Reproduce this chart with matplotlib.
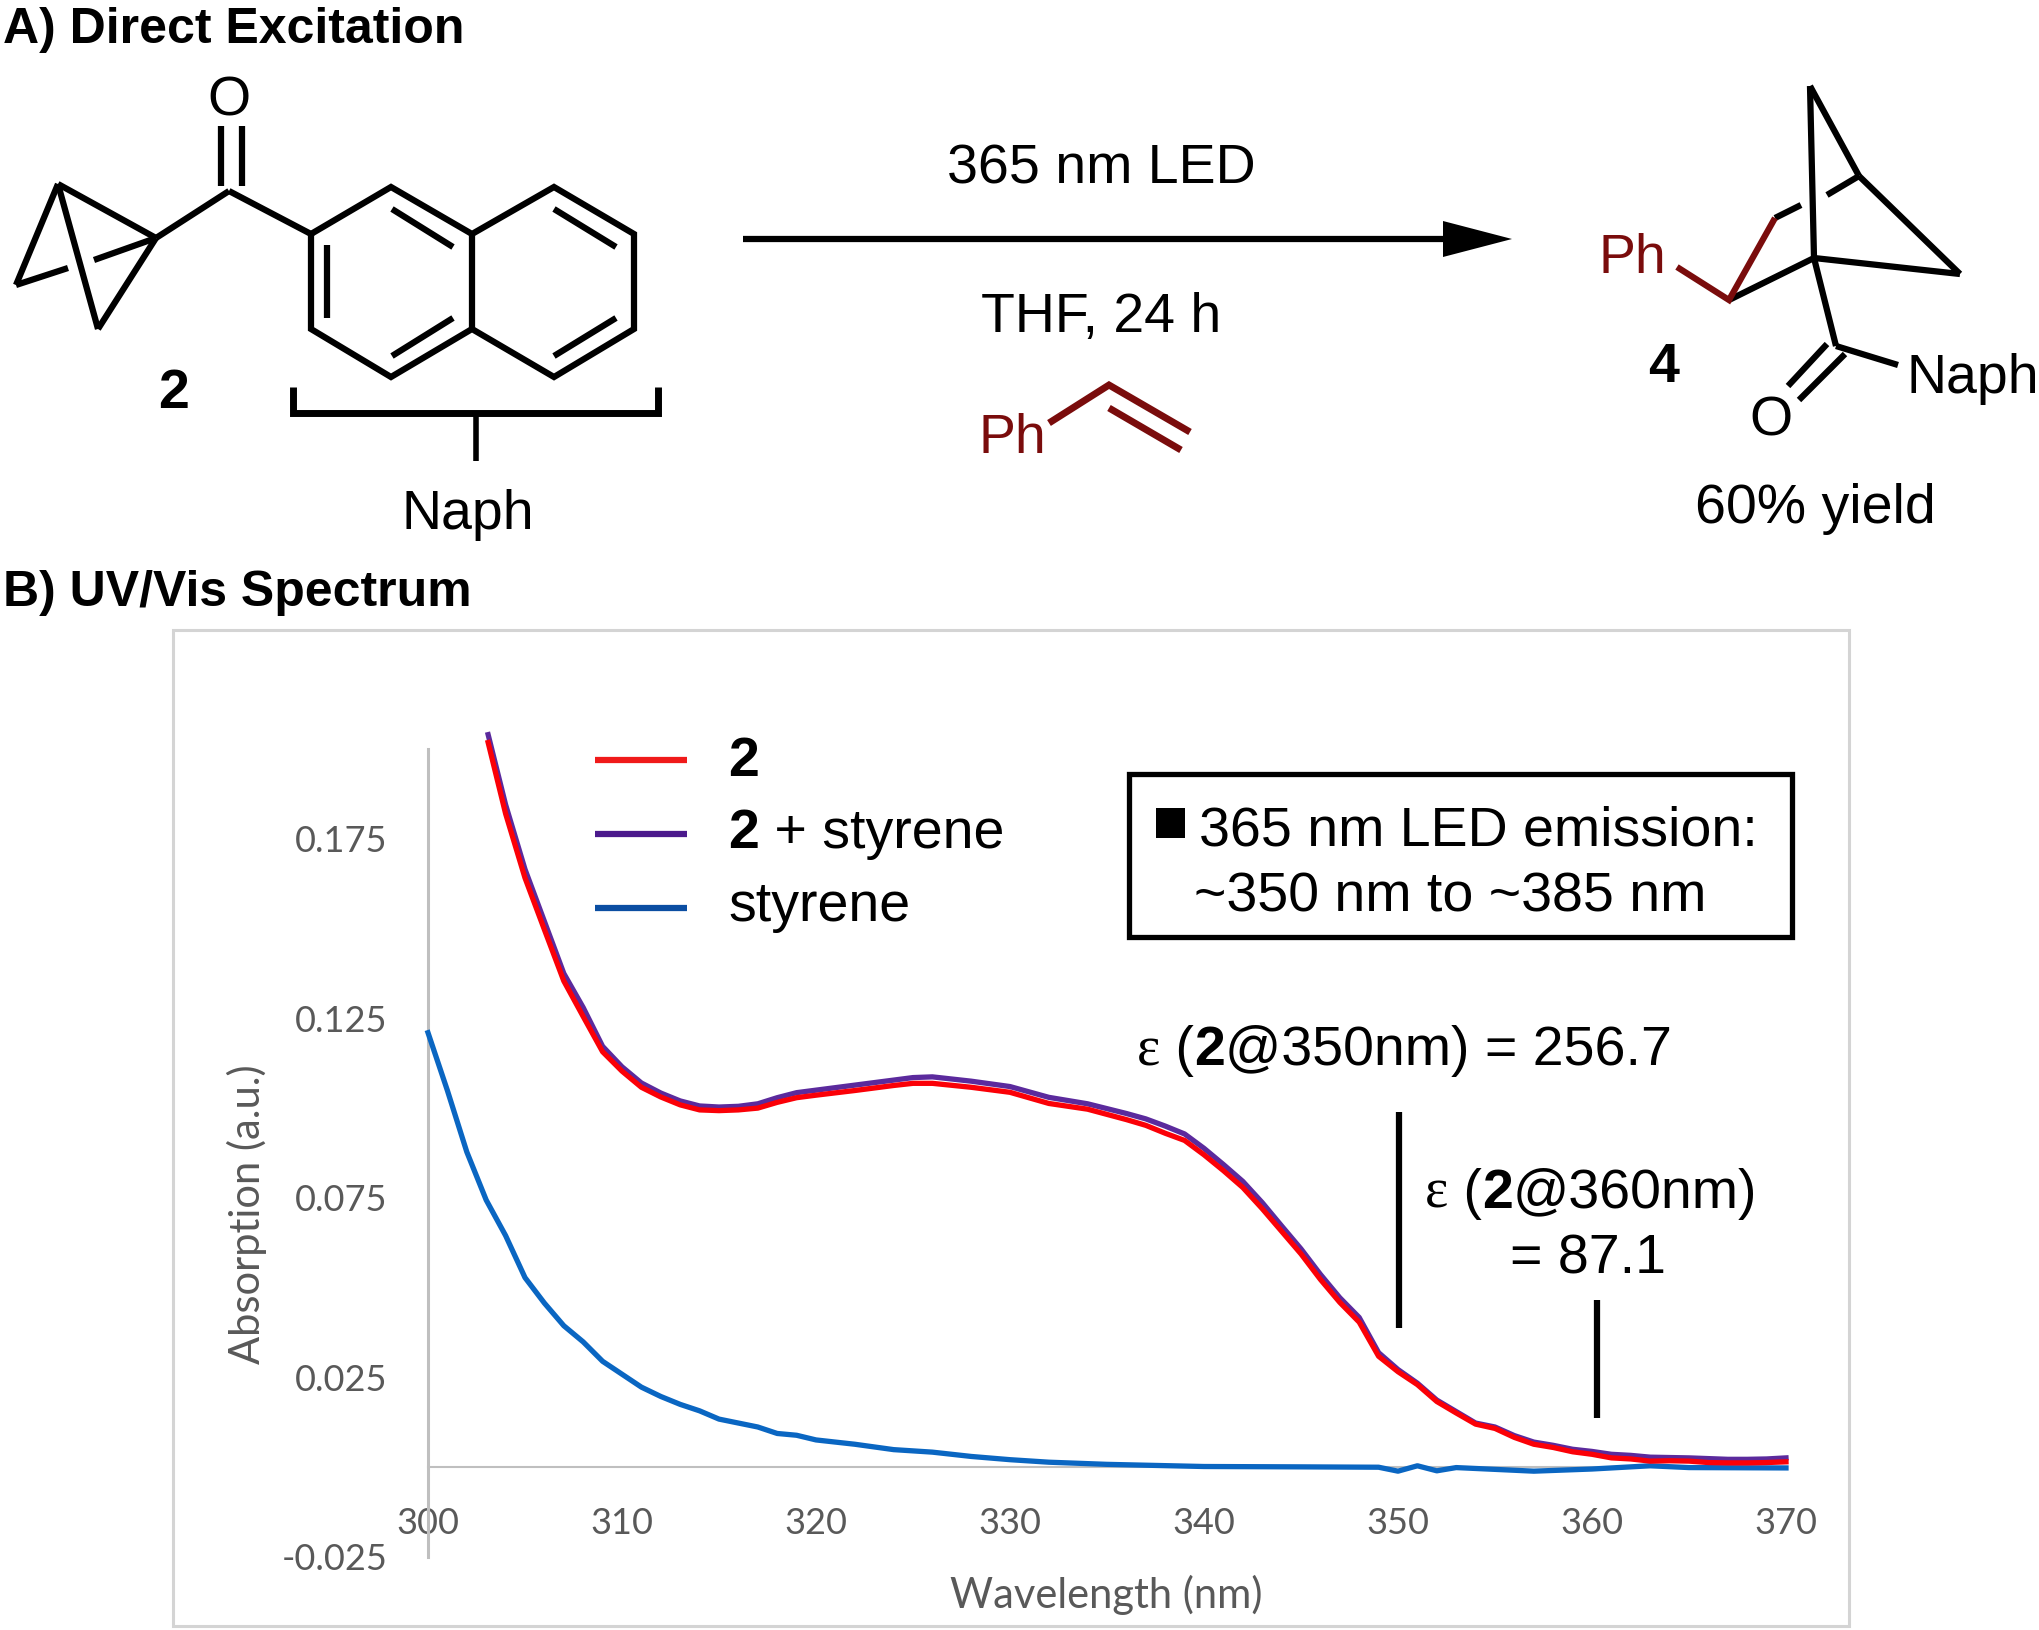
import matplotlib
matplotlib.use('Agg')
import matplotlib.pyplot as plt
from matplotlib.patches import Polygon, Rectangle

W, H = 2040, 1630
plt.rcParams['font.family'] = 'Liberation Sans'

# ***************** spectrum data
wl = [303.1, 304, 305, 306, 307, 308, 309, 310, 311, 312, 313, 314, 315, 316, 317, 318, 319, 320,
      322, 324, 325, 326, 328, 330, 332, 334, 336, 337, 338, 339, 340, 341, 342, 343, 344, 345,
      346, 347, 348, 349, 350, 351, 352, 353, 354, 355, 356, 357, 358, 359, 360, 361, 362, 363,
      364, 365, 366, 367, 368, 369, 370]
abs_2 = [.2018, .1820, .1641, .1497, .1354, .1255, .1157, .1103, .1058, .1031, .1009, .0995, .0993,
         .0995, .1000, .1016, .1029, .1036, .1049, .1063, .1069, .1069, .1058, .1044, .1013, .0997,
         .0968, .0952, .0930, .0910, .0870, .0826, .0779, .0720, .0657, .0594, .0523, .0459, .0404,
         .0309, .0266, .0230, .0183, .0151, .0120, .0108, .0083, .0064, .0055, .0043, .0036, .0026,
         .0023, .0017, .0018, .0017, .0013, .0012, .0012, .0013, .0015]
abs_2_styrene = [.2040, .1845, .1665, .1520, .1375, .1280, .1172, .1115, .1070, .1042, .1020, .1006,
                 .1003, .1005, .1012, .1029, .1043, .1050, .1064, .1078, .1085, .1087, .1075, .1060,
                 .1030, .1012, .0985, .0970, .0950, .0928, .0888, .0843, .0796, .0737, .0672, .0608,
                 .0537, .0472, .0417, .0319, .0272, .0234, .0187, .0155, .0123, .0112, .0088, .0070,
                 .0061, .0050, .0044, .0036, .0033, .0028, .0027, .0026, .0024, .0022, .0022, .0023,
                 .0026]
wl_sty = [300, 301, 302, 303, 304, 305, 306, 307, 308, 309, 310, 311, 312, 313, 314, 315, 316, 317,
          318, 319, 320, 322, 324, 326, 328, 330, 332, 335, 340, 345, 349, 350, 351, 352, 353, 357,
          360, 363, 365, 370]
abs_sty = [.1210, .1049, .0878, .0744, .0645, .0528, .0457, .0394, .0349, .0295, .0259, .0223, .0197,
           .0175, .0157, .0134, .0123, .0112, .0094, .0089, .0076, .0064, .0049, .0042, .0030, .0021,
           .0014, .0008, .0002, .0001, .0000, -.0011, .0004, -.0010, -.0001, -.0011, -.0005, .0004,
           -.0001, -.0002]
x_ticks = [300, 310, 320, 330, 340, 350, 360, 370]
y_ticks = [-0.025, 0.025, 0.075, 0.125, 0.175]
y_ticklabels = ['-0.025', '0.025', '0.075', '0.125', '0.175']

# ***************** structures, in pixels of the figure (x, y)
cp_bonds = [[(58, 184), (156, 238)], [(58, 184), (98, 329)], [(156, 238), (98, 329)],
            [(58, 184), (16, 285)], [(16, 285), (68, 268)], [(94, 260), (156, 238)],
            [(156, 238), (229, 191)], [(229, 191), (311, 234)],
            [(221, 126), (221, 186)], [(242, 126), (242, 186)]]
naph_ring = [(311, 234), (391, 187), (472, 234), (554, 187), (634, 234), (634, 329), (554, 377),
             (472, 329), (391, 377), (311, 329), (311, 234)]
naph_inner = [[(327, 245), (327, 318)], [(392, 209), (453, 247)], [(392, 356), (453, 318)],
              [(472, 234), (472, 329)], [(554, 209), (616, 247)], [(554, 356), (616, 318)]]
bracket = [(293, 387), (293, 413), (658, 413), (658, 387)]
bracket_stem = [(476, 413), (476, 461)]
styrene_bonds = [[(1049, 423), (1109, 385), (1190, 432)], [(1109, 408), (1181, 450)]]
prod_black = [[(1810, 86), (1814, 258)], [(1810, 86), (1859, 176)], [(1859, 176), (1960, 274)],
              [(1814, 258), (1960, 274)], [(1729, 300), (1814, 258)], [(1775, 218), (1801, 205)],
              [(1827, 195), (1859, 176)], [(1814, 258), (1836, 346)], [(1788, 386), (1827, 344)],
              [(1799, 400), (1845, 354)], [(1836, 346), (1898, 365)]]
prod_red = [[(1677, 267), (1729, 300), (1775, 218)]]

dark_red = '#7a0c0c'
grey_txt = '#595959'
axis_grey = '#bfbfbf'

fig = plt.figure(figsize=(W / 100, H / 100), dpi=100, facecolor='white')

# pixel overlay for everything that is not the spectrum
bg = fig.add_axes([0, 0, 1, 1])
bg.set_xlim(0, W)
bg.set_ylim(H, 0)
bg.axis('off')

def seg(pts, color='black', lw=4.0):
    bg.plot([p[0] for p in pts], [p[1] for p in pts], color=color, lw=lw, solid_capstyle='butt',
            solid_joinstyle='miter')

def txt(x, y, s, size=40, color='black', weight='normal', ha='center'):
    return bg.text(x, y, s, fontsize=size, color=color, fontweight=weight, ha=ha, va='center_baseline')

def runs(x, y, parts, size=40):
    # mixed weights on one line, each piece starts where the last one ended
    rend = fig.canvas.get_renderer()
    for s, weight, fam in parts:
        t = bg.text(x, y, s, fontsize=size, fontweight=weight, family=fam, ha='left',
                    va='baseline')
        trail = bg.text(0, 0, 'x' + s + 'x', fontsize=size, fontweight=weight, family=fam)
        only = bg.text(0, 0, 'xx', fontsize=size, fontweight=weight, family=fam)
        x += trail.get_window_extent(rend).width - only.get_window_extent(rend).width
        trail.remove()
        only.remove()

# ***************** A) scheme
txt(3, 25, 'A) Direct Excitation', size=36, weight='bold', ha='left')
txt(3, 588, 'B) UV/Vis Spectrum', size=36, weight='bold', ha='left')

for b in cp_bonds:
    seg(b, lw=4.5)
seg(naph_ring, lw=4.5)
for b in naph_inner:
    seg(b, lw=4.5)
seg(bracket, lw=5)
seg(bracket_stem, lw=4)
txt(229, 96, 'O')
txt(174, 388, '2', weight='bold')
txt(468, 509, 'Naph')

seg([(743, 239), (1450, 239)], lw=4.5)
bg.add_patch(Polygon([(1443, 221), (1512, 239), (1443, 257)], closed=True, color='black', lw=0))
txt(1101, 164, '365 nm LED')
txt(1101, 312, 'THF, 24 h')
txt(1012, 433, 'Ph', color=dark_red)
for b in styrene_bonds:
    seg(b, color=dark_red, lw=5)

for b in prod_black:
    seg(b, lw=4.5)
for b in prod_red:
    seg(b, color=dark_red, lw=4.5)
txt(1632, 253, 'Ph', color=dark_red)
txt(1664, 362, '4', weight='bold')
txt(1771, 415, 'O')
txt(1973, 373, 'Naph')
txt(1815, 503, '60% yield')

# ***************** B) frame round the chart
bg.add_patch(Rectangle((173, 630), 1676, 996, fill=False, edgecolor='#d4d4d4', lw=2.2))

# ***************** spectrum
ax = fig.add_axes([428 / W, 1 - 1557 / H, (1786 - 428) / W, (1557 - 749) / H])
ax.patch.set_alpha(0)
ax.plot(wl_sty, abs_sty, color='#0a66c2', lw=3.8, clip_on=False, zorder=3)
ax.plot(wl, abs_2_styrene, color='#5b2a9d', lw=3.8, clip_on=False, zorder=4)
ax.plot(wl, abs_2, color='#fb0007', lw=3.8, clip_on=False, zorder=5)
ax.set_xlim(300, 370)
ax.set_ylim(-0.025, 0.2)
ax.set_xticks(x_ticks)
ax.set_yticks(y_ticks)
ax.set_yticklabels(y_ticklabels)
for s in ['top', 'right']:
    ax.spines[s].set_visible(False)
ax.spines['bottom'].set_position(('data', 0))
ax.spines['bottom'].set_color(axis_grey)
ax.spines['bottom'].set_linewidth(1.5)
ax.spines['left'].set_color(axis_grey)
ax.spines['left'].set_linewidth(2.2)
ax.tick_params(axis='x', length=0, pad=29, labelsize=26, labelcolor=grey_txt)
ax.tick_params(axis='y', length=0, pad=29, labelsize=26, labelcolor=grey_txt)
for t in ax.get_xticklabels() + ax.get_yticklabels():
    t.set_family('Lato')
bg.text(247, 1214, 'Absorption (a.u.)', rotation=90, fontsize=30, color=grey_txt, family='Lato',
        ha='center', va='center')
bg.text(1106, 1595, 'Wavelength (nm)', fontsize=30, color=grey_txt, family='Lato', ha='center',
        va='center')

# legend by hand, the original one was pasted on top
seg([(595, 760), (687, 760)], color='#f01a1a', lw=4.5)
seg([(595, 834), (687, 834)], color='#4b1a8c', lw=4.5)
seg([(595, 908), (687, 908)], color='#0b4ea2', lw=4.5)
fig.canvas.draw()
runs(728, 776, [('2', 'bold', 'Liberation Sans')])
runs(728, 848, [('2', 'bold', 'Liberation Sans'), (' + styrene', 'normal', 'Liberation Sans')])
runs(728, 921, [('styrene', 'normal', 'Liberation Sans')])

# emission box
bg.add_patch(Rectangle((1129, 774), 663, 163, fill=False, edgecolor='black', lw=3.8))
bg.add_patch(Rectangle((1156, 808), 29, 30, color='black', lw=0))
runs(1199, 845, [('365 nm LED emission:', 'normal', 'Liberation Sans')])
runs(1194, 912, [('~350 nm to ~385 nm', 'normal', 'Liberation Sans')])

# extinction coefficients
runs(1137, 1065, [('ε', 'normal', 'Liberation Serif'), (' (', 'normal', 'Liberation Sans'),
                  ('2', 'bold', 'Liberation Sans'), ('@350nm) = 256.7', 'normal', 'Liberation Sans')])
seg([(1399, 1112), (1399, 1328)], lw=4.5)
runs(1425, 1208, [('ε', 'normal', 'Liberation Serif'), (' (', 'normal', 'Liberation Sans'),
                  ('2', 'bold', 'Liberation Sans'), ('@360nm)', 'normal', 'Liberation Sans')])
runs(1510, 1273, [('= 87.1', 'normal', 'Liberation Sans')])
seg([(1597, 1300), (1597, 1418)], lw=4.5)

fig.savefig('out.png', dpi=100, facecolor='white')
